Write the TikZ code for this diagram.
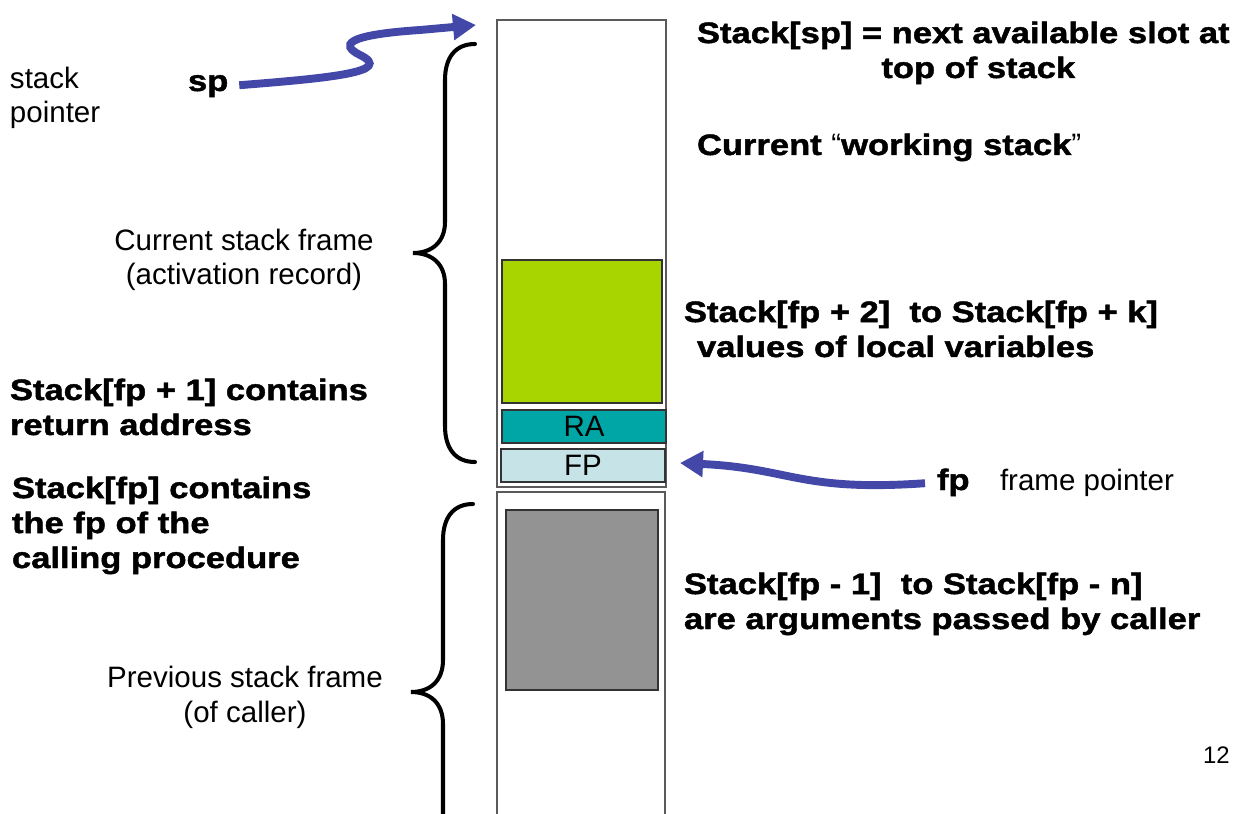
\documentclass[tikz,border=0pt]{standalone}
\usepackage{fontspec}
\setmainfont{Liberation Sans}
\newfontfamily\heavyfont{Liberation Sans}[FakeStretch=1.17,FakeBold=1.5]
\usetikzlibrary{arrows.meta, positioning}

\definecolor{pointerblue}{RGB}{67,72,168}
\definecolor{localgreen}{RGB}{168,212,0}
\definecolor{rateal}{RGB}{0,166,166}
\definecolor{fplight}{RGB}{198,228,232}
\definecolor{argsgray}{RGB}{147,147,147}
\definecolor{framegray}{RGB}{90,90,90}

\begin{document}
\begin{tikzpicture}[x=0.02cm, y=-0.02cm,
    every node/.style={inner sep=0pt, outer sep=0pt},
    plain text/.style={font=\fontsize{16.8}{19.9}\selectfont, align=left,
        anchor=base west},
    bold text/.style={plain text,
        font=\heavyfont\bfseries\fontsize{16.8}{19.9}\selectfont},
    frame/.style={draw=framegray, line width=0.8pt},
    slot/.style={draw=black!80, line width=0.8pt, font=\fontsize{16.8}{19.9}\selectfont},
    brace line/.style={line width=2.3pt, line cap=round},
    pointer/.style={draw=pointerblue, line width=4.5pt,
        -{Triangle[length=0.46cm, width=0.5cm]}}]
    \useasboundingbox (0,0) rectangle (1241,814);

    % stack column
    \draw[frame] (497,20) rectangle (666,487);
    \draw[frame] (497,820) |- (665,492) -- (665,820);
    \draw[slot, fill=localgreen] (502,260) rectangle (662,403);
    \node[slot, fill=rateal, minimum width=3.28cm, minimum height=0.66cm]
        (ra) at (584,426.5) {RA};
    \node[slot, fill=fplight, minimum width=3.28cm, minimum height=0.66cm]
        (fpslot) at (583,465.5) {FP};
    \draw[slot, fill=argsgray] (506,510) rectangle (658,690);

    % braces
    \draw[brace line] (475,44) .. controls (455,44) and (445,58) .. (445,80)
        -- (445,222) .. controls (445,242) and (432,253) .. (413,253)
        .. controls (432,253) and (445,264) .. (445,284)
        -- (445,426) .. controls (445,448) and (455,462) .. (475,462);
    \draw[brace line] (473,504) .. controls (453,504) and (443,518) .. (443,540)
        -- (443,660) .. controls (443,681) and (430,692) .. (411,692)
        .. controls (430,692) and (443,703) .. (443,724) -- (443,820);

    % left side (multi-line nodes sit on their last baseline)
    \node[plain text] (stackptr) at (10,123) {stack\\pointer};
    \node[bold text] (sp) at (188,91) {sp};
    \node[plain text, align=center, anchor=base] (curframe) at (244,285)
        {Current stack frame\\(activation record)};
    \node[bold text] (retaddr) at (10,435) {Stack[fp + 1] contains\\return address};
    \node[bold text] (oldfp) at (12,568)
        {Stack[fp] contains\\the fp of the\\calling procedure};
    \node[plain text, align=center, anchor=base] (prevframe) at (245,722)
        {Previous stack frame\\(of caller)};

    % right side
    \node[bold text, align=center] (sptext) at (697,78)
        {Stack[sp] = next available slot at\\\hspace*{0.6cm}top of stack};
    \node[bold text] (working) at (697,155)
        {Current {\normalfont\mdseries “}working stack{\normalfont\mdseries ”}};
    \node[bold text] (locals) at (684,357)
        {Stack[fp + 2]\ \ to Stack[fp + k]\\\hspace*{0.26cm}values of local variables};
    \node[bold text] (fpname) at (937,490) {fp};
    \node[plain text] (fplabel) at (1000,490) {frame pointer};
    \node[bold text] (args) at (684,629)
        {Stack[fp - 1]\ \ to Stack[fp - n]\\are arguments passed by caller};
    \node[plain text, font=\fontsize{13.6}{16}\selectfont] (pagenum) at (1203,763) {12};

    % pointers
    \coordinate (sptop) at (476,25);
    \coordinate (fptip) at (680,463);
    \draw[pointer, shorten <=0.22cm] (sp.east) .. controls (330,78) and (395,72) .. (360,55)
        .. controls (340,45) and (345,35) .. (420,30) -- (sptop);
    \draw[pointer, shorten <=0.24cm] (fpname.west) .. controls (800,492) and (790,468) .. (fptip);
\end{tikzpicture}
\end{document}
